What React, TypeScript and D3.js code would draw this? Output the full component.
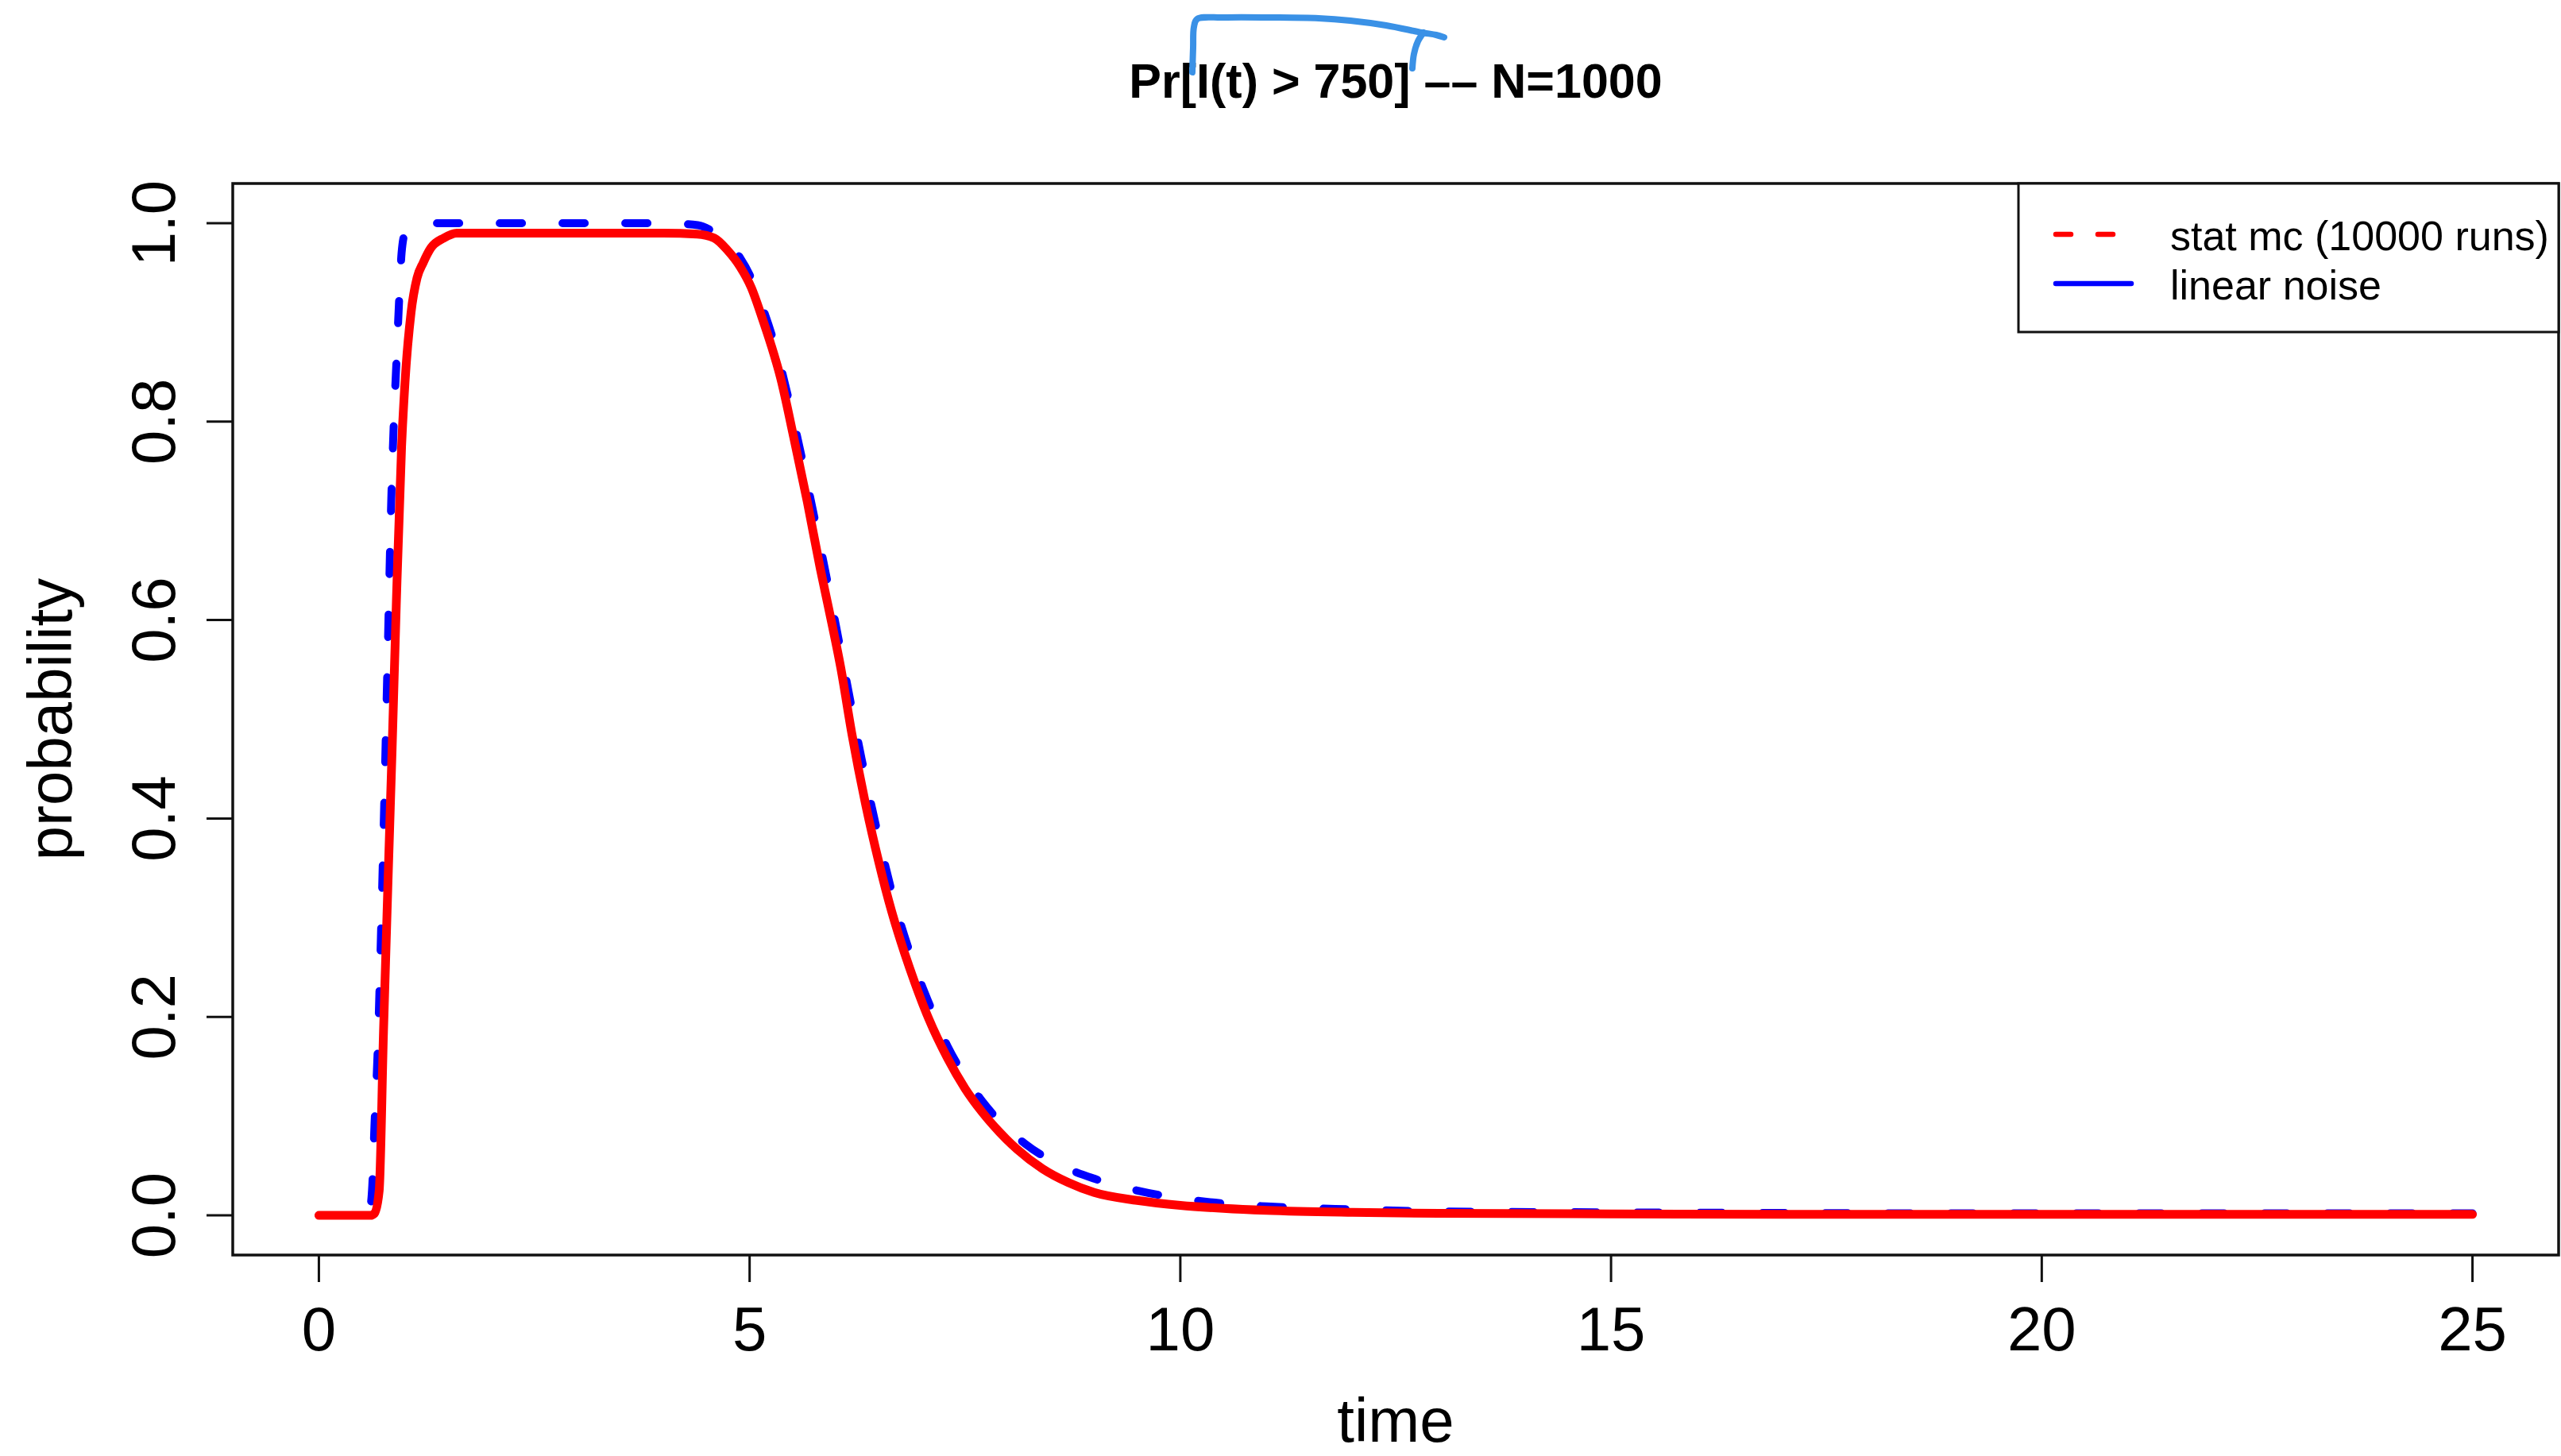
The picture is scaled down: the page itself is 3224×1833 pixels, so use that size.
import React from "react";
import * as d3 from "d3";

// ---------- data ----------
const title = "Pr[I(t) > 750] –– N=1000";
const xLabel = "time";
const yLabel = "probability";

const xTicks = [0, 5, 10, 15, 20, 25];
const yTicks = [0, 0.2, 0.4, 0.6, 0.8, 1.0];
const yTickLabels = ["0.0", "0.2", "0.4", "0.6", "0.8", "1.0"];

const legendLabels = ["stat mc (10000 runs)", "linear noise"];

// red solid curve (stat mc)
const statTime = [
  0, 0.6, 0.645, 0.7, 0.75, 0.8, 0.85, 0.9, 0.96, 1.0, 1.07, 1.14, 1.21, 1.3, 1.45, 1.6,
  2.0, 3.0, 4.0, 4.39, 4.59, 4.74, 4.89, 5.02, 5.14, 5.25, 5.36, 5.51, 5.67, 5.82, 5.91,
  6.06, 6.19, 6.34, 6.5, 6.65, 6.8, 6.92, 7.08, 7.3, 7.5, 7.7, 7.9, 8.1, 8.4, 8.7, 9.0,
  9.5, 10, 10.5, 11, 12, 13, 15, 17, 20, 23, 25,
];
const statProb = [
  0, 0, 0.002, 0.025, 0.185, 0.33, 0.47, 0.62, 0.775, 0.84, 0.91, 0.945, 0.96, 0.975, 0.985, 0.99,
  0.99, 0.99, 0.99, 0.989, 0.985, 0.973, 0.956, 0.935, 0.906, 0.877, 0.844, 0.785, 0.719, 0.652, 0.615,
  0.551, 0.484, 0.417, 0.356, 0.306, 0.264, 0.234, 0.198, 0.158, 0.128, 0.104, 0.084, 0.067, 0.047, 0.033, 0.023,
  0.015, 0.01, 0.007, 0.005, 0.003, 0.002, 0.0015, 0.001, 0.001, 0.001, 0.001,
];

// blue dashed curve (linear noise)
const lnaTime = [
  0, 0.55, 0.6, 0.62, 0.645, 0.68, 0.72, 0.76, 0.8, 0.84, 0.87, 0.9, 0.93, 0.96, 1.0, 1.1, 1.3,
  2.5, 4.0, 4.4, 4.6, 4.75, 4.89, 5.0, 5.15, 5.3, 5.5, 5.7, 5.9, 6.1, 6.3, 6.5, 6.7, 6.9,
  7.1, 7.3, 7.5, 7.7, 7.9, 8.2, 8.5, 9.0, 9.5, 10, 10.5, 11, 12, 13, 15, 20, 25,
];
const lnaProb = [
  0, 0, 0.01, 0.03, 0.09, 0.16, 0.28, 0.42, 0.57, 0.72, 0.8, 0.86, 0.92, 0.97, 0.99, 0.997, 1.0,
  1.0, 1.0, 0.998, 0.99, 0.98, 0.965, 0.948, 0.915, 0.875, 0.805, 0.725, 0.64, 0.55, 0.46, 0.38, 0.31, 0.255,
  0.21, 0.17, 0.14, 0.115, 0.095, 0.072, 0.055, 0.037, 0.025, 0.017, 0.012, 0.009, 0.006, 0.004, 0.003, 0.002, 0.002,
];

// hand-drawn blue annotation over the title (pixel space)
const annotationStroke1: [number, number][] = [
  [1501, 91], [1502, 60], [1503, 34], [1507, 24], [1540, 22], [1600, 22], [1660, 23],
  [1700, 26], [1745, 32], [1790, 41], [1808, 44], [1818, 47],
];
const annotationStroke2: [number, number][] = [
  [1792, 41], [1785, 52], [1780, 68], [1778, 86],
];

// ---------- layout ----------
const W = 3224;
const H = 1833;
const box = { left: 293, right: 3221, top: 231, bottom: 1580 };
const font = "'Liberation Sans', Arial, Helvetica, sans-serif";

export default function App() {
  const x = d3.scaleLinear().domain([-1, 26]).range([box.left, box.right]);
  const y = d3.scaleLinear().domain([-0.04, 1.04]).range([box.bottom, box.top]);

  const line = d3
    .line<[number, number]>()
    .x((d) => x(d[0]))
    .y((d) => y(d[1]))
    .curve(d3.curveMonotoneX);

  const statPts: [number, number][] = statTime.map((t, i) => [t, statProb[i]]);
  const lnaPts: [number, number][] = lnaTime.map((t, i) => [t, lnaProb[i]]);

  const annoLine = d3
    .line<[number, number]>()
    .x((d) => d[0])
    .y((d) => d[1])
    .curve(d3.curveCatmullRom);

  const legend = { left: 2541, right: 3221, top: 231, bottom: 418 };
  const legRows = [295, 357];

  return (
    <svg
      width={W}
      height={H}
      style={{ position: "absolute", left: 0, top: 0, background: "#fff" }}
      fontFamily={font}
    >
      <rect x={0} y={0} width={W} height={H} fill="#fff" />

      {/* curves */}
      <path
        d={line(lnaPts) || ""}
        fill="none"
        stroke="#0000ff"
        strokeWidth={10}
        strokeDasharray="28 51"
        strokeLinecap="round"
        strokeLinejoin="round"
      />
      <path
        d={line(statPts) || ""}
        fill="none"
        stroke="#ff0000"
        strokeWidth={11}
        strokeLinecap="round"
        strokeLinejoin="round"
      />

      {/* plot box */}
      <rect
        x={box.left}
        y={box.top}
        width={box.right - box.left}
        height={box.bottom - box.top}
        fill="none"
        stroke="#111"
        strokeWidth={3.5}
      />

      {/* x axis */}
      {xTicks.map((t) => (
        <g key={"xt" + t}>
          <line x1={x(t)} x2={x(t)} y1={box.bottom} y2={box.bottom + 34} stroke="#111" strokeWidth={3} />
          <text x={x(t)} y={1700} fontSize={78} textAnchor="middle" fill="#000">
            {t}
          </text>
        </g>
      ))}
      <text x={(box.left + box.right) / 2} y={1815} fontSize={78} textAnchor="middle" fill="#000">
        {xLabel}
      </text>

      {/* y axis */}
      {yTicks.map((v, i) => (
        <g key={"yt" + i}>
          <line x1={box.left - 33} x2={box.left} y1={y(v)} y2={y(v)} stroke="#111" strokeWidth={3} />
          <text
            transform={`translate(220,${y(v)}) rotate(-90)`}
            fontSize={78}
            textAnchor="middle"
            fill="#000"
          >
            {yTickLabels[i]}
          </text>
        </g>
      ))}
      <text
        transform={`translate(90,${(box.top + box.bottom) / 2}) rotate(-90)`}
        fontSize={78}
        textAnchor="middle"
        fill="#000"
      >
        {yLabel}
      </text>

      {/* title */}
      <text
        x={(box.left + box.right) / 2}
        y={123}
        fontSize={61}
        fontWeight="bold"
        textAnchor="middle"
        fill="#000"
      >
        {title}
      </text>

      {/* legend */}
      <rect
        x={legend.left}
        y={legend.top}
        width={legend.right - legend.left}
        height={legend.bottom - legend.top}
        fill="#fff"
        stroke="#111"
        strokeWidth={3}
      />
      <line
        x1={2588}
        x2={2683}
        y1={legRows[0]}
        y2={legRows[0]}
        stroke="#ff0000"
        strokeWidth={6.5}
        strokeDasharray="19 34"
        strokeLinecap="round"
      />
      <line
        x1={2588}
        x2={2683}
        y1={legRows[1]}
        y2={legRows[1]}
        stroke="#0000ff"
        strokeWidth={6.5}
        strokeLinecap="round"
      />
      {legendLabels.map((l, i) => (
        <text key={l} x={2732} y={legRows[i] + 20} fontSize={52} fill="#000">
          {l}
        </text>
      ))}

      {/* hand-drawn annotation */}
      <path
        d={annoLine(annotationStroke1) || ""}
        fill="none"
        stroke="#3a91e6"
        strokeWidth={8}
        strokeLinecap="round"
        strokeLinejoin="round"
      />
      <path
        d={annoLine(annotationStroke2) || ""}
        fill="none"
        stroke="#3a91e6"
        strokeWidth={8}
        strokeLinecap="round"
        strokeLinejoin="round"
      />
    </svg>
  );
}
